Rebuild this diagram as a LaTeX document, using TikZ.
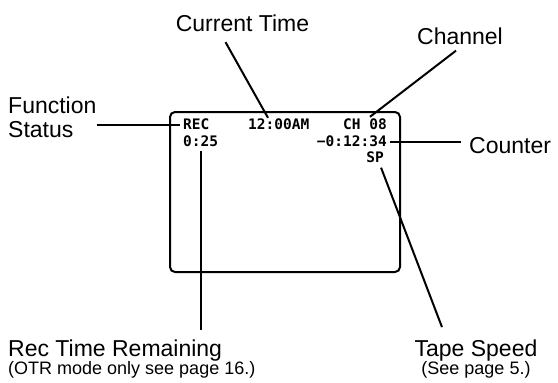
\documentclass[tikz,border=0pt]{standalone}
\usepackage{fontspec}
\setmainfont{Liberation Sans}
\newfontfamily\osdfont{DejaVu Sans Mono}
\usetikzlibrary{calc}
\tikzset{
  lbl/.style={inner sep=0pt, font=\fontsize{23}{24}\selectfont},
  note/.style={inner sep=0pt, font=\fontsize{18}{20}\selectfont},
  osd/.style={inner sep=0pt, font=\osdfont\bfseries\fontsize{14.5}{15}\selectfont},
  conn/.style={line width=2pt},
}
\begin{document}
\begin{tikzpicture}[x=1pt, y=-1pt]
    \useasboundingbox (0,0) rectangle (558,383);

    % 屏幕
    \draw[line width=2pt, rounded corners=5pt] (170,112) rectangle (400,272);

    % 屏幕显示
    \node[osd, anchor=west] (rec) at (183,124.5) {REC};
    \node[osd, anchor=west] (clk) at (248,124.5) {12:00AM};
    \node[osd, anchor=east] (chan) at (387,124.5) {CH 08};
    \node[osd, anchor=west] (remain) at (183,141.5) {0:25};
    \node[osd, anchor=east] (count) at (387,141.5) {−0:12:34};
    \node[osd, anchor=east] (speed) at (384,157) {SP};

    % 标注文字
    \node[lbl, anchor=west, align=left] (status) at (8,117) {Function\\Status};
    \node[lbl] (ctime) at (242.5,23.5) {Current Time};
    \node[lbl] (chlbl) at (460,36) {Channel};
    \node[lbl, anchor=west] (ctlbl) at (469,146) {Counter};
    \node[lbl, anchor=base west] (rtr) at (8,356) {Rec Time Remaining};
    \node[note, anchor=base west] (otr) at (8,374) {(OTR mode only see page 16.)};
    \node[lbl, anchor=base] (tape) at (476,356) {Tape Speed};
    \node[note, anchor=base] (seep) at (476,374) {(See page 5.)};

    % 引线
    \draw[conn] (status.east |- rec.west) -- ($(rec.west)+(-3,0)$);
    \draw[conn] ($(ctime.south)+(-17,10)$) -- ($(clk.north west)+(20,-1)$);
    \draw[conn] ($(chlbl.south)+(-4,6)$) -- ($(chan.north east)+(-17,-2)$);
    \draw[conn] ($(count.east)+(3,0)$) -- ($(ctlbl.west |- count.east)+(-8,0)$);
    \draw[conn] ($(remain.south)+(0,4)$) -- ($(remain.south |- rtr.north)+(0,-9)$);
    \draw[conn] ($(tape.north)+(-34,-12)$) -- ($(speed.south)+(6,5)$);
\end{tikzpicture}
\end{document}
